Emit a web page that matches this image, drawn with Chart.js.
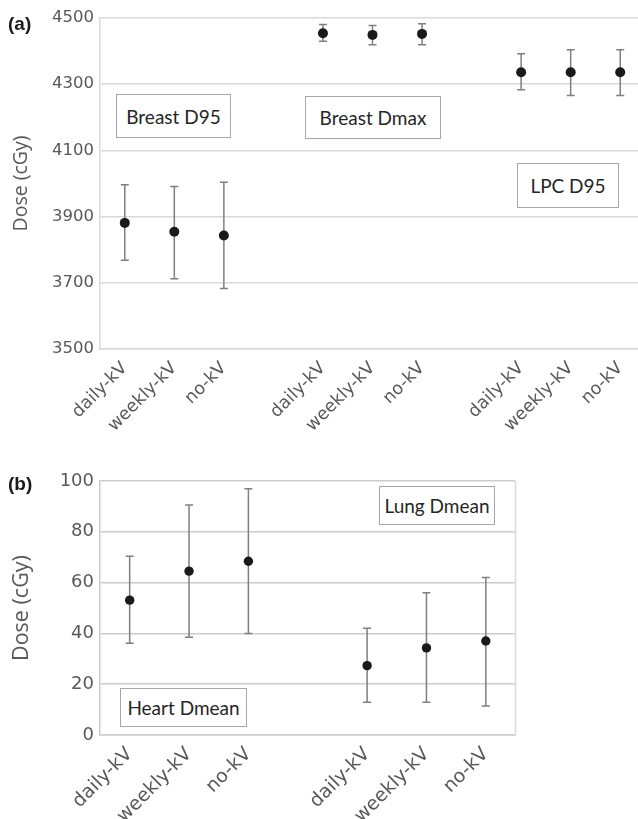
<!DOCTYPE html>
<html><head><meta charset="utf-8">
<script src="https://cdn.jsdelivr.net/npm/chart.js@4.4.0/dist/chart.umd.min.js"></script>
<style>
html,body{margin:0;padding:0;background:#fff;overflow:hidden;width:638px;height:819px;position:relative;}
#cA{position:absolute;left:0;top:0;}
#cB{position:absolute;left:0;top:440px;}
.panel{position:absolute;font-family:"Liberation Sans",Arial,sans-serif;font-weight:bold;font-size:19px;color:#1a1a1a;line-height:1;}
.box{position:absolute;border:1px solid #a6a6a6;background:#fff;box-sizing:border-box;display:flex;align-items:center;justify-content:center;font-family:Lato,sans-serif;font-size:19px;color:#262626;}
</style></head>
<body>
<canvas id="cA" width="660" height="450"></canvas>
<canvas id="cB" width="638" height="379"></canvas>
<div class="panel" style="left:8px;top:14px;">(a)</div>
<div class="panel" style="left:8px;top:474px;">(b)</div>
<div class="box" style="left:116px;top:94px;width:115px;height:44px;">Breast D95</div>
<div class="box" style="left:305px;top:96px;width:136px;height:43px;">Breast Dmax</div>
<div class="box" style="left:517px;top:163px;width:102px;height:45px;">LPC D95</div>
<div class="box" style="left:379px;top:486px;width:116px;height:39px;">Lung Dmean</div>
<div class="box" style="left:120px;top:688px;width:127px;height:39px;">Heart Dmean</div>
<script>
// ---- data ----
const groupLabels = ['daily-kV', 'weekly-kV', 'no-kV'];

const breastD95Mean = [3881, 3854, 3843];
const breastD95Low  = [3768, 3712, 3683];
const breastD95High = [3996, 3991, 4004];

const breastDmaxMean = [4454, 4449, 4452];
const breastDmaxLow  = [4430, 4419, 4419];
const breastDmaxHigh = [4480, 4477, 4483];

const lpcD95Mean = [4336, 4336, 4336];
const lpcD95Low  = [4283, 4266, 4266];
const lpcD95High = [4392, 4404, 4404];

const heartMean = [53.1, 64.5, 68.4];
const heartLow  = [36.1, 38.5, 40.0];
const heartHigh = [70.4, 90.6, 96.9];

const lungMean = [27.3, 34.3, 37.0];
const lungLow  = [12.9, 12.9, 11.4];
const lungHigh = [42.0, 56.0, 62.0];

const ticksA = [3500, 3700, 3900, 4100, 4300, 4500];
const ticksB = [0, 20, 40, 60, 80, 100];

// ---- helpers ----
const labelsA = [...groupLabels, '', ...groupLabels, '', ...groupLabels];
const labelsB = [...groupLabels, '', ...groupLabels];
function place(values, start, total) {
  const out = new Array(total).fill(null);
  values.forEach((v, i) => { out[start + i] = v; });
  return out;
}
function ds(mean, low, high, start, total, r) {
  return {
    data: place(mean, start, total),
    errLow: place(low, start, total),
    errHigh: place(high, start, total),
    showLine: false,
    pointRadius: r,
    pointHoverRadius: r,
    pointBackgroundColor: '#1a1a1a',
    pointBorderColor: '#1a1a1a',
    pointBorderWidth: 0
  };
}

const errorBars = {
  id: 'errorBars',
  beforeDatasetsDraw(chart, args, opts) {
    const ctx = chart.ctx, y = chart.scales.y;
    ctx.save();
    ctx.strokeStyle = opts.color;
    ctx.lineWidth = opts.width;
    chart.data.datasets.forEach((d, di) => {
      const meta = chart.getDatasetMeta(di);
      d.data.forEach((v, i) => {
        if (v == null) return;
        const px = meta.data[i].x;
        const yl = y.getPixelForValue(d.errLow[i]);
        const yh = y.getPixelForValue(d.errHigh[i]);
        ctx.beginPath();
        ctx.moveTo(px, yl); ctx.lineTo(px, yh);
        ctx.moveTo(px - opts.cap, yl); ctx.lineTo(px + opts.cap, yl);
        ctx.moveTo(px - opts.cap, yh); ctx.lineTo(px + opts.cap, yh);
        ctx.stroke();
      });
    });
    ctx.restore();
  }
};
const frameRight = {
  id: 'frameRight',
  beforeDatasetsDraw(chart, args, opts) {
    if (!opts.enabled) return;
    const a = chart.chartArea, ctx = chart.ctx;
    ctx.save();
    ctx.strokeStyle = opts.color; ctx.lineWidth = opts.width;
    ctx.beginPath(); ctx.moveTo(a.right, a.top); ctx.lineTo(a.right, a.bottom); ctx.stroke();
    ctx.restore();
  }
};

function makeOpts(cfg) {
  return {
    responsive: false,
    animation: false,
    layout: { padding: cfg.padding },
    plugins: {
      legend: { display: false },
      tooltip: { enabled: false },
      errorBars: { color: '#7f7f7f', width: 1.5, cap: 4 },
      frameRight: { enabled: cfg.frame, color: '#d9d9d9', width: 1.5 }
    },
    scales: {
      x: {
        type: 'category',
        offset: true,
        grid: { display: false, drawTicks: false },
        border: { display: true, color: cfg.gridColor, width: 1.5 },
        ticks: {
          color: '#595959',
          font: { family: '"DejaVu Sans"', size: cfg.xFont },
          minRotation: 45, maxRotation: 45, autoSkip: false, padding: cfg.xPad
        },
        afterFit: s => { s.height = cfg.xHeight; }
      },
      y: {
        min: cfg.ticks[0], max: cfg.ticks[cfg.ticks.length - 1],
        afterBuildTicks: s => { s.ticks = cfg.ticks.map(v => ({ value: v })); },
        grid: { color: cfg.gridColor, lineWidth: 1.5, drawTicks: false },
        border: { display: true, color: cfg.gridColor, width: 1.5 },
        ticks: {
          color: '#595959',
          font: { family: '"DejaVu Sans"', size: cfg.yFont },
          padding: 6,
          callback: v => String(v)
        },
        title: {
          display: true, text: 'Dose (cGy)', color: '#595959',
          font: { family: '"Open Sans"', size: cfg.titleFont },
          padding: { top: cfg.titlePad, bottom: 0 }
        },
        afterFit: s => { s.width = 100; }
      }
    }
  };
}

new Chart(document.getElementById('cA'), {
  type: 'line',
  data: {
    labels: labelsA,
    datasets: [
      ds(breastD95Mean, breastD95Low, breastD95High, 0, 11, 5),
      ds(breastDmaxMean, breastDmaxLow, breastDmaxHigh, 4, 11, 5),
      ds(lpcD95Mean, lpcD95Low, lpcD95High, 8, 11, 5)
    ]
  },
  options: makeOpts({ padding: { top: 18, right: 15, left: 0, bottom: 0 }, frame: false,
    gridColor: '#d9d9d9', xFont: 17.5, yFont: 16.5, titleFont: 19.5, titlePad: 10, xPad: 9, xHeight: 101, ticks: ticksA }),
  plugins: [errorBars, frameRight]
});

new Chart(document.getElementById('cB'), {
  type: 'line',
  data: {
    labels: labelsB,
    datasets: [
      ds(heartMean, heartLow, heartHigh, 0, 7, 4.7),
      ds(lungMean, lungLow, lungHigh, 4, 7, 4.7)
    ]
  },
  options: makeOpts({ padding: { top: 41, right: 122.5, left: 0, bottom: 0 }, frame: true,
    gridColor: '#cccccc', xFont: 19, yFont: 18, titleFont: 21.5, titlePad: 9, xPad: 8, xHeight: 84, ticks: ticksB }),
  plugins: [errorBars, frameRight]
});
</script>
</body></html>
